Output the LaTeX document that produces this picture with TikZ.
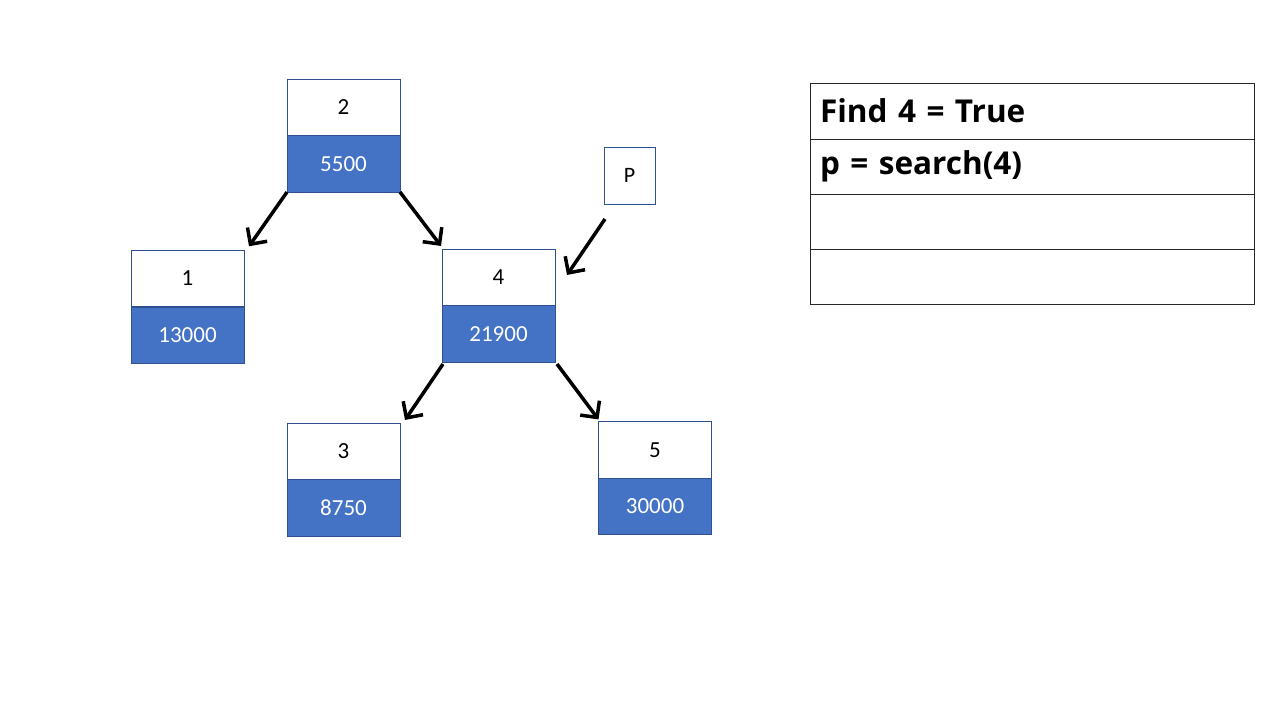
\documentclass[tikz,border=0pt]{standalone}
\usepackage{fontspec}
\setmainfont{Carlito}
\newfontfamily\tablefont{Open Sans}
\usetikzlibrary{arrows.meta}
\definecolor{boxblue}{HTML}{4472C4}
\definecolor{boxline}{HTML}{2F528F}
\tikzset{
  keycell/.style={draw=boxline, line width=0.8pt, fill=white, minimum width=113pt, minimum height=56.5pt, inner sep=0pt, outer sep=0pt, font=\fontsize{23}{27}\selectfont},
  valcell/.style={keycell, fill=boxblue, text=white},
  pbox/.style={draw=boxline, line width=0.8pt, minimum width=51pt, minimum height=57pt, inner sep=0pt, outer sep=0pt, font=\fontsize{22}{26}\selectfont},
  link/.style={line width=3.5pt, -{Straight Barb[length=12pt,width=24pt,line width=3.5pt]}},
  rowcell/.style={draw=black!85, line width=1pt, minimum width=444pt, minimum height=55.25pt, text width=424pt, align=left, inner sep=0pt, outer sep=0pt, font=\tablefont\bfseries\fontsize{31.5}{36}\selectfont},
}
\begin{document}
\begin{tikzpicture}[x=1pt,y=-1pt]
\useasboundingbox (0,0) rectangle (1280,720);
% tree nodes
\node[keycell] (k2) at (343.5,107.2) {2};
\node[valcell] (v2) at (343.5,163.8) {5500};
\node[keycell] (k1) at (187.5,278.5) {1};
\node[valcell] (v1) at (187.5,335.5) {13000};
\node[keycell] (k4) at (498.5,277.2) {4};
\node[valcell] (v4) at (498.5,333.8) {21900};
\node[keycell] (k3) at (343.5,451.2) {3};
\node[valcell] (v3) at (343.5,507.8) {8750};
\node[keycell] (k5) at (655,449.7) {5};
\node[valcell] (v5) at (655,506.2) {30000};
\node[pbox] (p) at (629.5,175.5) {P};
% connectors
\draw[link] (v2.south west) -- ([shift={(5,-4)}]k1.north east);
\draw[link] (v2.south east) -- ([shift={(-1,-3)}]k4.north west);
\draw[link] ([shift={(1,15)}]p.south west) -- ([shift={(12,26)}]k4.north east);
\draw[link] ([shift={(1,2)}]v4.south west) -- ([shift={(5,-3)}]k3.north east);
\draw[link] ([shift={(2,2)}]v4.south east) -- ([shift={(0,-2)}]k5.north west);
% table
\node[rowcell] (r1) at (1032,111.6) {\raisebox{3pt}{Find 4 = True}};
\node[rowcell] (r2) at (1032,166.8) {\raisebox{2pt}{p = search(4)}};
\node[rowcell] (r3) at (1032,222) {};
\node[rowcell] (r4) at (1032,277.3) {};
\end{tikzpicture}
\end{document}
